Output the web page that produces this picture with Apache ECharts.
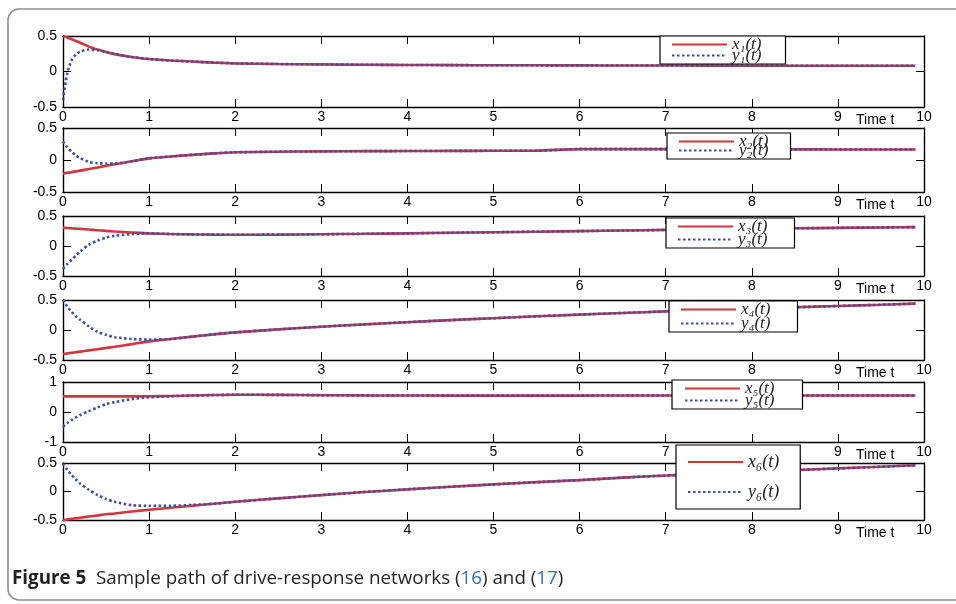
<!DOCTYPE html>
<html>
<head>
<meta charset="utf-8">
<script src="https://cdn.jsdelivr.net/npm/echarts@6/dist/echarts.min.js"></script>
<style>html,body{margin:0;padding:0;background:#fff;}#c{width:956px;height:604px;}</style>
</head>
<body>
<div id="c"></div>
<script>
// ---- data ----
const t = [0,0.05,0.1,0.15,0.2,0.3,0.4,0.5,0.6,0.8,1,1.25,1.5,1.75,2,2.5,3,3.5,4,4.5,5,5.5,6,6.5,7,7.5,8,8.5,9,9.5,9.9];
const x1 = [0.5,0.48,0.455,0.43,0.405,0.35,0.31,0.275,0.245,0.205,0.175,0.155,0.14,0.125,0.115,0.105,0.1,0.095,0.092,0.09,0.088,0.087,0.086,0.085,0.084,0.083,0.082,0.081,0.08,0.08,0.08];
const y1 = [-0.4,-0.02,0.16,0.24,0.28,0.31,0.30,0.275,0.245,0.205,0.175,0.155,0.14,0.125,0.115,0.105,0.1,0.095,0.092,0.09,0.088,0.087,0.086,0.085,0.084,0.083,0.082,0.081,0.08,0.08,0.08];
const x2 = [-0.21,-0.2,-0.19,-0.178,-0.166,-0.142,-0.117,-0.09,-0.065,-0.02,0.025,0.055,0.08,0.103,0.12,0.13,0.135,0.138,0.14,0.142,0.144,0.146,0.17,0.17,0.17,0.168,0.167,0.166,0.165,0.165,0.165];
const y2 = [0.29,0.2,0.13,0.07,0.03,-0.03,-0.05,-0.055,-0.055,-0.02,0.025,0.055,0.08,0.103,0.12,0.13,0.135,0.138,0.14,0.142,0.144,0.146,0.17,0.17,0.17,0.168,0.167,0.166,0.165,0.165,0.165];
const x3 = [0.305,0.3,0.295,0.29,0.285,0.274,0.263,0.252,0.242,0.225,0.21,0.2,0.194,0.19,0.188,0.19,0.196,0.203,0.211,0.22,0.229,0.238,0.248,0.258,0.268,0.278,0.287,0.295,0.302,0.309,0.315];
const y3 = [-0.38,-0.3,-0.23,-0.16,-0.09,0.02,0.09,0.14,0.17,0.2,0.21,0.2,0.194,0.19,0.188,0.19,0.196,0.203,0.211,0.22,0.229,0.238,0.248,0.258,0.268,0.278,0.287,0.295,0.302,0.309,0.315];
const x4 = [-0.4,-0.39,-0.38,-0.37,-0.36,-0.34,-0.32,-0.3,-0.28,-0.235,-0.19,-0.15,-0.11,-0.073,-0.04,0.01,0.055,0.093,0.13,0.165,0.197,0.228,0.257,0.284,0.31,0.335,0.358,0.38,0.4,0.42,0.44];
const y4 = [0.5,0.39,0.3,0.23,0.17,0.06,-0.03,-0.08,-0.12,-0.15,-0.16,-0.15,-0.11,-0.073,-0.04,0.01,0.055,0.093,0.13,0.165,0.197,0.228,0.257,0.284,0.31,0.335,0.358,0.38,0.4,0.42,0.44];
const x5 = [0.52,0.52,0.52,0.52,0.52,0.52,0.52,0.52,0.52,0.52,0.525,0.535,0.55,0.565,0.575,0.57,0.56,0.553,0.55,0.547,0.545,0.545,0.547,0.55,0.55,0.55,0.55,0.55,0.55,0.55,0.55];
const y5 = [-0.49,-0.37,-0.27,-0.18,-0.1,0.03,0.15,0.26,0.33,0.43,0.49,0.525,0.55,0.565,0.575,0.57,0.56,0.553,0.55,0.547,0.545,0.545,0.547,0.55,0.55,0.55,0.55,0.55,0.55,0.55,0.55];
const x6 = [-0.5,-0.49,-0.48,-0.47,-0.46,-0.44,-0.42,-0.4,-0.385,-0.352,-0.32,-0.285,-0.25,-0.215,-0.18,-0.12,-0.063,-0.01,0.038,0.082,0.125,0.164,0.2,0.243,0.28,0.312,0.343,0.375,0.405,0.435,0.46];
const y6 = [0.49,0.38,0.29,0.21,0.14,0.03,-0.06,-0.13,-0.18,-0.24,-0.25,-0.25,-0.235,-0.215,-0.18,-0.12,-0.063,-0.01,0.038,0.082,0.125,0.164,0.2,0.243,0.28,0.312,0.343,0.375,0.405,0.435,0.46];
const xTicks = [0,1,2,3,4,5,6,7,8,9,10];
const yRanges = [[-0.5,0.5,0.5],[-0.5,0.5,0.5],[-0.5,0.5,0.5],[-0.5,0.5,0.5],[-1,1,1],[-0.5,0.5,0.5]];
const drive = [x1,x2,x3,x4,x5,x6];
const response = [y1,y2,y3,y4,y5,y6];
const driveNames = ['x₁(t)','x₂(t)','x₃(t)','x₄(t)','x₅(t)','x₆(t)'];
const responseNames = ['y₁(t)','y₂(t)','y₃(t)','y₄(t)','y₅(t)','y₆(t)'];
const axisName = 'Time t';

// ---- layout ----
const panels = [
  {top:36, h:71}, {top:128, h:64}, {top:216, h:60},
  {top:300, h:60}, {top:382, h:60}, {top:463, h:57}
];
const legendBoxes = [
  {left:660, top:36, pad:[0,24,0,11], gap:-6, lh:13, fs:17},
  {left:667, top:133, pad:[0,22,0,11], gap:-8, lh:12, fs:17},
  {left:666, top:218, pad:[0,27,0,11], gap:-4, lh:13, fs:17},
  {left:669, top:301, pad:[0,27,0,11], gap:-3, lh:13, fs:17},
  {left:672, top:380, pad:[0,28,0,12], gap:-5, lh:13, fs:17},
  {left:676, top:445, pad:[8,21,8,11], gap:12, lh:17, fs:18}
];
const RED = '#d4343d', BLUE = '#3a4fa8';

const grid = [], xAxis = [], yAxis = [], series = [], legend = [];
const zip = (a) => t.map((v,i) => [v, a[i]]);
const lblFont = {color:'#000', fontSize:14, fontFamily:'Liberation Sans'};
panels.forEach((p, i) => {
  grid.push({left:63, right:32, top:p.top, height:p.h, show:false});
  const [ymin, ymax, yint] = yRanges[i];
  const tickStyle = {show:true, inside:true, length:8, lineStyle:{color:'#000', width:1}};
  const line = {show:true, onZero:false, lineStyle:{color:'#000', width:1.4}};
  xAxis.push({
    gridIndex:i, type:'value', min:xTicks[0], max:xTicks[xTicks.length-1], interval:1, position:'bottom',
    axisLine:line, axisTick:tickStyle, splitLine:{show:false},
    axisLabel:Object.assign({margin:3, showMinLabel:true, showMaxLabel:true}, lblFont),
    name:axisName, nameLocation:'end', nameGap:-68,
    nameTextStyle:Object.assign({verticalAlign:'top', padding:[6,0,0,0]}, lblFont)
  });
  xAxis.push({
    gridIndex:i, type:'value', min:xTicks[0], max:xTicks[xTicks.length-1], interval:1, position:'top',
    axisLine:line, axisTick:tickStyle, axisLabel:{show:false}, splitLine:{show:false}
  });
  yAxis.push({
    gridIndex:i, type:'value', min:ymin, max:ymax, interval:yint, position:'left',
    axisLine:line, axisTick:tickStyle, splitLine:{show:false},
    axisLabel:Object.assign({margin:6}, lblFont)
  });
  yAxis.push({
    gridIndex:i, type:'value', min:ymin, max:ymax, interval:yint, position:'right',
    axisLine:line, axisTick:tickStyle, axisLabel:{show:false}, splitLine:{show:false}
  });
  const xn = driveNames[i], yn = responseNames[i];
  series.push({
    name:xn, type:'line', xAxisIndex:2*i, yAxisIndex:2*i, data:zip(drive[i]),
    symbol:'none', smooth:0.25, animation:false,
    lineStyle:{color:RED, width:2.6}, itemStyle:{color:RED}, z:2
  });
  series.push({
    name:yn, type:'line', xAxisIndex:2*i, yAxisIndex:2*i, data:zip(response[i]),
    symbol:'none', smooth:0.25, animation:false,
    lineStyle:{color:BLUE, width:2.6, type:[2.5,2.5]}, itemStyle:{color:BLUE}, z:3
  });
  const L = legendBoxes[i];
  legend.push({
    data:[xn, yn], orient:'vertical', left:L.left, top:L.top, padding:L.pad, itemGap:L.gap,
    itemWidth:55, itemHeight:8, selectedMode:false,
    itemStyle:{opacity:0},
    backgroundColor:'#fff', borderColor:'#000', borderWidth:1.2, borderRadius:0,
    textStyle:{fontFamily:'Liberation Serif, DejaVu Serif', fontStyle:'italic', fontSize:L.fs, color:'#222', lineHeight:L.lh}
  });
});

const chart = echarts.init(document.getElementById('c'), null, {renderer:'canvas'});
chart.setOption({
  backgroundColor:'#fff',
  animation:false,
  grid, xAxis, yAxis, series, legend,
  graphic:[
    {type:'rect', z:-1, shape:{x:8, y:9, width:980, height:591, r:11}, style:{fill:'none', stroke:'#8f8f8f', lineWidth:1.6}},
    {type:'text', left:12, top:569, style:{
      text:'{b|Figure 5}  Sample path of drive-response networks ({l|16}) and ({l|17})',
      fontFamily:'Open Sans', fontSize:18.8, fill:'#231f20',
      rich:{b:{fontFamily:'Open Sans', fontSize:18.8, fontWeight:'bold', fill:'#231f20'}, l:{fontFamily:'Open Sans', fontSize:18.8, fill:'#2f6fc0'}}
    }}
  ]
});
</script>
</body>
</html>
